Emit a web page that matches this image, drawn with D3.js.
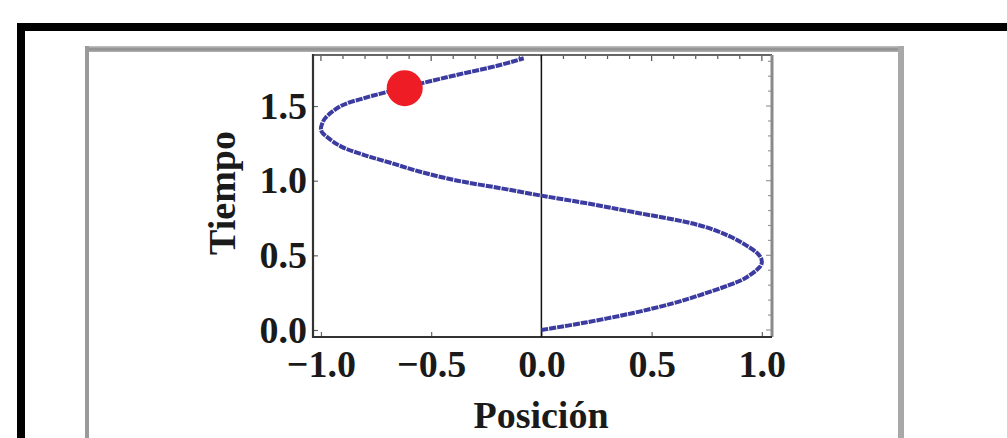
<!DOCTYPE html>
<html>
<head>
<meta charset="utf-8">
<script src="https://cdn.jsdelivr.net/npm/d3@7"></script>
<style>
  html, body { margin: 0; padding: 0; background: #fff; }
  svg { display: block; }
</style>
</head>
<body>
<svg id="chart" width="1007" height="438"></svg>
<script>
// ---- data ----
const posicion = [0.00, 0.20, 0.417, 0.60, 0.72, 0.85, 0.916, 0.975, 0.995, 1.00, 0.995, 0.975, 0.92, 0.85, 0.72, 0.417, 0.20, 0.00,
                  -0.186, -0.38, -0.55, -0.685, -0.80, -0.91, -0.97, -0.995, -1.00, -0.995, -0.98, -0.91, -0.80, -0.685, -0.55, -0.38, -0.20, -0.08];
const tiempo   = [0.00, 0.05, 0.114, 0.18, 0.234, 0.30, 0.34, 0.40, 0.43, 0.455, 0.485, 0.52, 0.575, 0.63, 0.70, 0.79, 0.85, 0.90,
                  0.95, 1.00, 1.06, 1.12, 1.17, 1.23, 1.29, 1.325, 1.35, 1.38, 1.42, 1.50, 1.555, 1.60, 1.65, 1.71, 1.77, 1.82];
const puntoPos = [-0.62];
const puntoTiempo = [1.62];
const xTicks = [-1.0, -0.5, 0.0, 0.5, 1.0];
const yTicks = [0.0, 0.5, 1.0, 1.5];
const xMinor = d3.range(-10, 11).map(d => d / 10);
const yMinor = d3.range(0, 19).map(d => d / 10);
const xLabel = "Posición";
const yLabel = "Tiempo";

const svg = d3.select("#chart");
const serif = "'Liberation Serif', 'DejaVu Serif', serif";

// outer black frame
svg.append("rect").attr("x", 17).attr("y", 23).attr("width", 1007 - 17).attr("height", 8).attr("fill", "#000");
svg.append("rect").attr("x", 17).attr("y", 23).attr("width", 8).attr("height", 438 - 23).attr("fill", "#000");

// grey inner frame
const gTop = svg.append("defs").append("linearGradient").attr("id", "gtop").attr("x1", 0).attr("x2", 0).attr("y1", 0).attr("y2", 1);
gTop.append("stop").attr("offset", "0%").attr("stop-color", "#c8c8c8");
gTop.append("stop").attr("offset", "50%").attr("stop-color", "#8c8c8c");
gTop.append("stop").attr("offset", "100%").attr("stop-color", "#b0b0b0");
svg.append("rect").attr("x", 85).attr("y", 46).attr("width", 819).attr("height", 6).attr("fill", "url(#gtop)");
svg.append("rect").attr("x", 85).attr("y", 46).attr("width", 4).attr("height", 438 - 46).attr("fill", "#9a9a9a");
svg.append("rect").attr("x", 898).attr("y", 46).attr("width", 6).attr("height", 438 - 46).attr("fill", "#a8a8a8");

// plot area
const L = 313, R = 772, T = 55, B = 337;
const x = d3.scaleLinear().domain([-1.036, 1.046]).range([L, R]);
const y = d3.scaleLinear().domain([-0.047, 1.842]).range([B, T]);

// minor/major ticks on top and right (inward)
const isMajor = d => Math.abs(d * 2 - Math.round(d * 2)) < 1e-6;
svg.append("g").selectAll("line").data(xMinor).join("line")
  .attr("x1", d => x(d)).attr("x2", d => x(d))
  .attr("y1", T).attr("y2", d => T + (isMajor(d) ? 6 : 4))
  .attr("stroke", "#555").attr("stroke-width", 1.2);
svg.append("g").selectAll("line").data(yMinor).join("line")
  .attr("y1", d => y(d)).attr("y2", d => y(d))
  .attr("x1", R).attr("x2", d => R - (isMajor(d) ? 6 : 4))
  .attr("stroke", "#999").attr("stroke-width", 1.2);

// bottom axis
const fmt = d3.format(".1f");
const xAxis = svg.append("g").attr("transform", `translate(0,${B})`)
  .call(d3.axisBottom(x).tickValues(xTicks).tickFormat(fmt).tickSize(-5).tickPadding(13));
xAxis.select(".domain").remove();
xAxis.selectAll(".tick line").attr("stroke", "#666").attr("stroke-width", 1.2);
xAxis.selectAll(".tick text")
  .attr("font-family", serif).attr("font-weight", "bold").attr("font-size", 38).attr("fill", "#1a1a1a")
  .attr("dy", "0.71em");

// left axis
const yAxis = svg.append("g").attr("transform", `translate(${L},0)`)
  .call(d3.axisLeft(y).tickValues(yTicks).tickFormat(fmt).tickSize(-5).tickPadding(6));
yAxis.select(".domain").remove();
yAxis.selectAll(".tick line").attr("stroke", "#666").attr("stroke-width", 1.2);
yAxis.selectAll(".tick text")
  .attr("font-family", serif).attr("font-weight", "bold").attr("font-size", 38).attr("fill", "#1a1a1a");

// frame box
svg.append("line").attr("x1", L).attr("x2", R).attr("y1", T).attr("y2", T).attr("stroke", "#666").attr("stroke-width", 2);
svg.append("line").attr("x1", R).attr("x2", R).attr("y1", T).attr("y2", B).attr("stroke", "#8a8a8a").attr("stroke-width", 3);
svg.append("line").attr("x1", L).attr("x2", L).attr("y1", T - 1).attr("y2", B + 1).attr("stroke", "#333").attr("stroke-width", 2.2);
svg.append("line").attr("x1", L).attr("x2", R).attr("y1", B).attr("y2", B).attr("stroke", "#333").attr("stroke-width", 2.2);

// vertical axis at x = 0
svg.append("line").attr("x1", x(0)).attr("x2", x(0)).attr("y1", T).attr("y2", B).attr("stroke", "#111").attr("stroke-width", 1.5);

// curve
const pts = posicion.map((p, i) => [p, tiempo[i]]);
const line = d3.line().x(d => x(d[0])).y(d => y(d[1])).curve(d3.curveCatmullRom.alpha(0.5));
svg.append("path").datum(pts).attr("d", line)
  .attr("fill", "none").attr("stroke", "#3b3ba0").attr("stroke-width", 4)
  .attr("stroke-dasharray", "7 1").attr("stroke-linecap", "butt");

// red point
svg.append("g").selectAll("circle").data(puntoPos.map((p, i) => [p, puntoTiempo[i]])).join("circle")
  .attr("cx", d => x(d[0])).attr("cy", d => y(d[1])).attr("r", 18).attr("fill", "#ee1c24");

// axis titles
svg.append("text").attr("x", 541).attr("y", 428).attr("text-anchor", "middle")
  .attr("font-family", serif).attr("font-weight", "bold")
  .attr("font-size", 38).attr("fill", "#1a1a1a").text(xLabel);
svg.append("text").attr("transform", "translate(235,193) rotate(-90)").attr("text-anchor", "middle")
  .attr("font-family", serif).attr("font-weight", "bold")
  .attr("font-size", 38).attr("fill", "#1a1a1a").text(yLabel);
</script>
</body>
</html>
